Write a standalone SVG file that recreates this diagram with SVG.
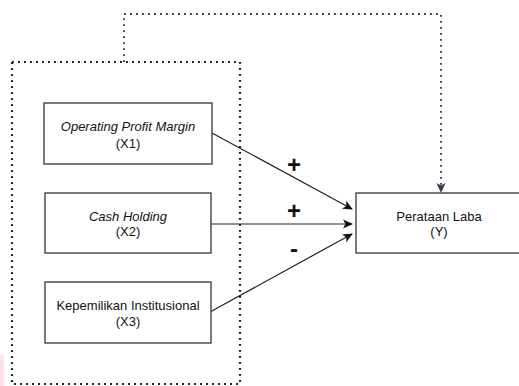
<svg xmlns="http://www.w3.org/2000/svg" width="519" height="386" viewBox="0 0 519 386">
  <defs>
    <style>
      .box { fill: #ffffff; stroke: #333333; stroke-width: 1.3; }
      .t { font-family: "Liberation Sans", Arial, sans-serif; font-size: 13px; fill: #111111; text-anchor: middle; }
      .it { font-style: italic; }
      .sign { font-family: "Liberation Sans", Arial, sans-serif; font-size: 24px; font-weight: bold; fill: #111111; text-anchor: middle; }
      .edge { fill: none; stroke: #222222; stroke-width: 1.2; }
      .dots { fill: none; stroke: #111111; stroke-width: 2.2; stroke-dasharray: 1.8 4.2; }
    </style>
    <marker id="arr" viewBox="0 0 10 10" refX="9" refY="5" markerWidth="10" markerHeight="10" markerUnits="userSpaceOnUse" orient="auto">
      <path d="M0,0.5 L10,5 L0,9.5 L2.5,5 z" fill="#111111"/>
    </marker>
    <marker id="arrg" viewBox="0 0 10 10" refX="9" refY="5" markerWidth="10" markerHeight="10" markerUnits="userSpaceOnUse" orient="auto">
      <path d="M0,0.5 L10,5 L0,9.5 L2.5,5 z" fill="#2f3e4e"/>
    </marker>
  </defs>
  <rect width="519" height="386" fill="#ffffff"/>
  <rect x="0" y="355" width="4" height="31" fill="#fde3e6"/>

  <g id="group-box">
    <rect class="dots" x="12" y="62" width="228" height="322"/>
  </g>

  <g id="connectors">
    <path class="edge" d="M212,133 L352,209" marker-end="url(#arr)"/>
    <path class="edge" d="M211,224 L352,224" marker-end="url(#arr)"/>
    <path class="edge" d="M210,312 L352,234" marker-end="url(#arr)"/>
    <path d="M124,62 L124,14 L441,14 L441,192" fill="none" stroke="#333333" stroke-width="1.8" stroke-dasharray="1.8 4.2" marker-end="url(#arrg)"/>
  </g>

  <g id="labels">
    <text class="sign" x="294" y="173">+</text>
    <text class="sign" x="294" y="219">+</text>
    <text class="sign" x="294" y="257">-</text>
  </g>

  <g id="x1">
    <rect class="box" x="44" y="103" width="168" height="61"/>
    <text class="t it" x="128" y="131">Operating Profit Margin</text>
    <text class="t" x="128" y="148">(X1)</text>
  </g>
  <g id="x2">
    <rect class="box" x="45" y="193" width="166" height="60"/>
    <text class="t it" x="128" y="221">Cash Holding</text>
    <text class="t" x="128" y="236">(X2)</text>
  </g>
  <g id="x3">
    <rect class="box" x="45" y="282" width="166" height="61"/>
    <text class="t" x="128" y="310">Kepemilikan Institusional</text>
    <text class="t" x="128" y="326">(X3)</text>
  </g>
  <g id="y">
    <rect class="box" x="356" y="193" width="166" height="60"/>
    <text class="t" x="439" y="221">Perataan Laba</text>
    <text class="t" x="439" y="236">(Y)</text>
  </g>
</svg>
